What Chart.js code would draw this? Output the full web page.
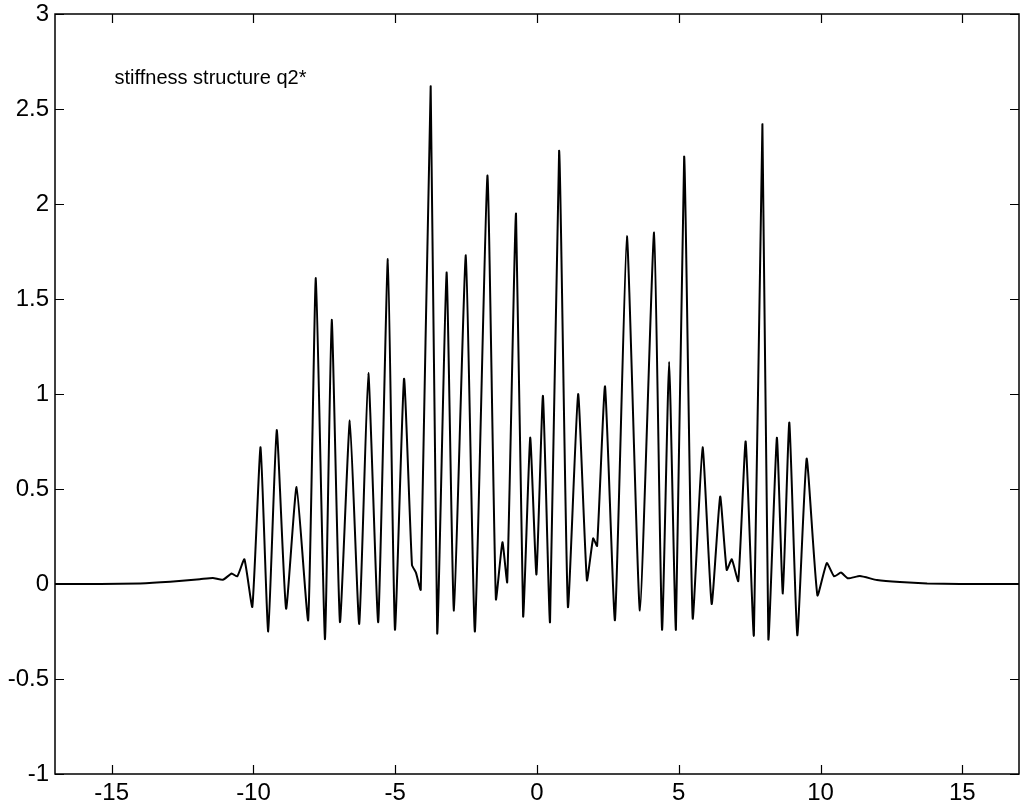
<!DOCTYPE html>
<html><head><meta charset="utf-8">
<script src="https://cdn.jsdelivr.net/npm/chart.js@4.4.0/dist/chart.umd.min.js"></script>
<style>html,body{margin:0;padding:0;background:#fff;} canvas{display:block;}</style>
</head><body>
<canvas id="c" width="1024" height="805"></canvas>
<script>
// Data
const xValues = [-17.0, -15.4, -14.0, -12.94, -11.89, -11.43, -11.08, -10.77, -10.57, -10.32,
  -10.04, -9.75, -9.48, -9.18, -8.85, -8.48, -8.07, -7.80, -7.48, -7.24,
  -6.95, -6.60, -6.27, -5.95, -5.60, -5.26, -5.01, -4.69, -4.41, -4.27,
  -4.10, -3.75, -3.52, -3.19, -2.93, -2.51, -2.19, -1.75, -1.45, -1.22,
  -1.05, -0.74, -0.49, -0.24, -0.02, 0.21, 0.46, 0.78, 1.09, 1.45,
  1.76, 1.98, 2.12, 2.40, 2.75, 3.17, 3.63, 4.13, 4.41, 4.66,
  4.90, 5.19, 5.49, 5.84, 6.16, 6.46, 6.69, 6.87, 7.10, 7.36,
  7.65, 7.95, 8.16, 8.46, 8.67, 8.90, 9.18, 9.51, 9.89, 10.22,
  10.48, 10.72, 10.97, 11.39, 11.99, 12.80, 13.76, 14.92, 17.0];
const yValues = [0, 0, 0.003, 0.012, 0.025, 0.032, 0.022, 0.055, 0.04, 0.13,
  -0.12, 0.72, -0.25, 0.81, -0.13, 0.51, -0.19, 1.61, -0.29, 1.39,
  -0.20, 0.86, -0.21, 1.11, -0.20, 1.71, -0.24, 1.08, 0.10, 0.06,
  -0.03, 2.62, -0.26, 1.64, -0.14, 1.73, -0.25, 2.15, -0.08, 0.22,
  0.01, 1.95, -0.17, 0.77, 0.05, 0.99, -0.20, 2.28, -0.12, 1.00,
  0.02, 0.24, 0.20, 1.04, -0.19, 1.83, -0.14, 1.85, -0.24, 1.17,
  -0.24, 2.25, -0.18, 0.72, -0.105, 0.46, 0.074, 0.13, 0.016, 0.75,
  -0.27, 2.42, -0.29, 0.77, -0.05, 0.85, -0.27, 0.66, -0.06, 0.11,
  0.04, 0.06, 0.03, 0.042, 0.021, 0.01, 0.003, 0, 0];
const xTicks = [-15, -10, -5, 0, 5, 10, 15];
const yTicks = [-1, -0.5, 0, 0.5, 1, 1.5, 2, 2.5, 3];
const annotationText = 'stiffness structure q2*';
const annotationPos = [-14.9, 2.63];

const points = xValues.map((x, i) => ({ x: x, y: yValues[i] }));

const framePlugin = {
  id: 'frame',
  afterDraw(chart) {
    const ctx = chart.ctx, a = chart.chartArea, xs = chart.scales.x, ys = chart.scales.y;
    ctx.save();
    ctx.strokeStyle = '#000';
    ctx.lineWidth = 1.5;
    ctx.strokeRect(a.left, a.top, a.right - a.left, a.bottom - a.top);
    const L = 9;
    ctx.beginPath();
    xTicks.forEach(v => {
      const px = Math.round(xs.getPixelForValue(v)) + 0.5;
      ctx.moveTo(px, a.bottom); ctx.lineTo(px, a.bottom - L);
      ctx.moveTo(px, a.top); ctx.lineTo(px, a.top + L);
    });
    yTicks.forEach(v => {
      const py = Math.round(ys.getPixelForValue(v)) + 0.5;
      ctx.moveTo(a.left, py); ctx.lineTo(a.left + L, py);
      ctx.moveTo(a.right, py); ctx.lineTo(a.right - L, py);
    });
    ctx.lineWidth = 1.2;
    ctx.stroke();
    ctx.fillStyle = '#000';
    ctx.font = '20px "Liberation Sans", Arial, sans-serif';
    ctx.textBaseline = 'alphabetic';
    ctx.textAlign = 'left';
    ctx.fillText(annotationText, xs.getPixelForValue(annotationPos[0]), ys.getPixelForValue(annotationPos[1]));
    ctx.restore();
  }
};

const tickFont = { family: '"Liberation Sans", Arial, sans-serif', size: 24 };

new Chart(document.getElementById('c'), {
  type: 'line',
  data: {
    datasets: [{
      data: points,
      borderColor: '#000',
      borderWidth: 2,
      pointRadius: 0,
      tension: 0.15,
      fill: false
    }]
  },
  options: {
    responsive: false,
    animation: false,
    devicePixelRatio: 1,
    layout: { padding: { top: 14, right: 5, left: 0, bottom: 0 } },
    plugins: { legend: { display: false }, tooltip: { enabled: false } },
    scales: {
      x: {
        type: 'linear', min: -17, max: 17,
        afterBuildTicks: s => { s.ticks = xTicks.map(v => ({ value: v })); },
        afterFit: s => { s.height = 31; s.paddingLeft = 0; s.paddingRight = 0; s.paddingTop = 0; s.paddingBottom = 0; },
        grid: { display: false, drawTicks: false },
        border: { display: false },
        ticks: { font: tickFont, color: '#000', padding: 5, maxRotation: 0, autoSkip: false, callback: v => String(v) }
      },
      y: {
        type: 'linear', min: -1, max: 3,
        afterBuildTicks: s => { s.ticks = yTicks.map(v => ({ value: v })); },
        afterFit: s => { s.width = 55; s.paddingLeft = 0; s.paddingRight = 0; s.paddingTop = 0; s.paddingBottom = 0; },
        grid: { display: false, drawTicks: false },
        border: { display: false },
        ticks: { font: tickFont, color: '#000', padding: 6, autoSkip: false, callback: v => String(v) }
      }
    }
  },
  plugins: [framePlugin]
});
</script>
</body></html>
